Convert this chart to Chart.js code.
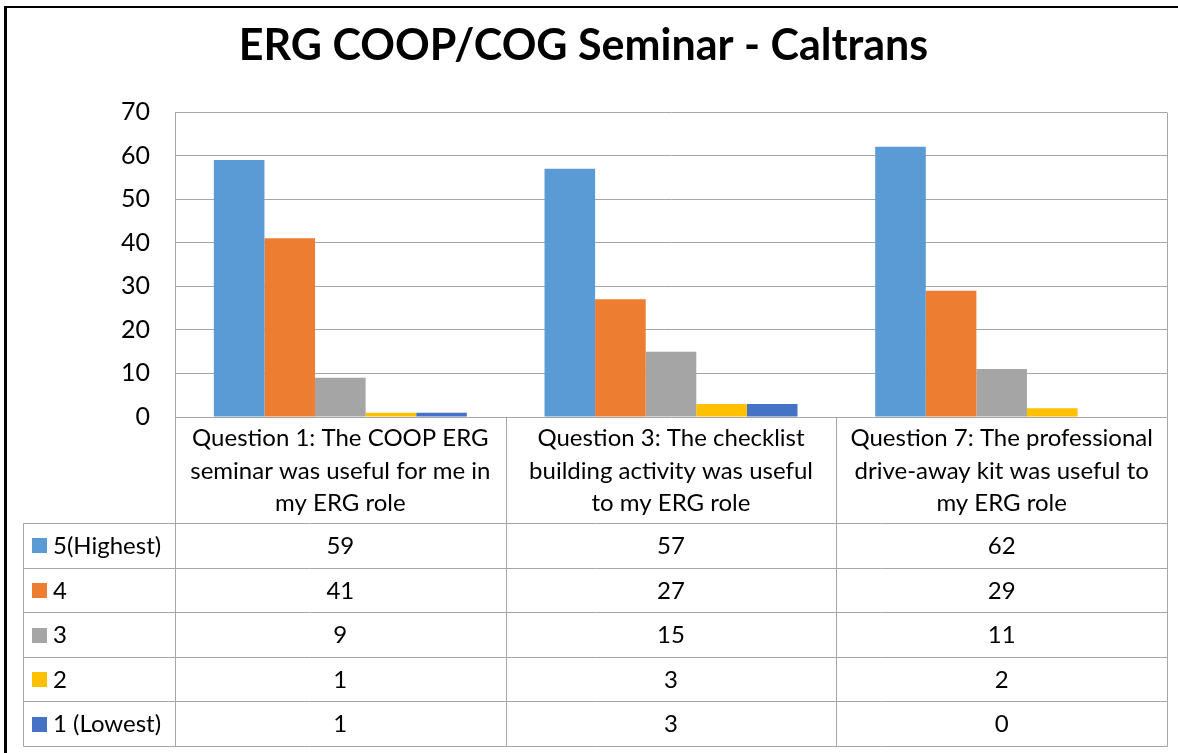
<!DOCTYPE html>
<html>
<head>
<meta charset="utf-8">
<script src="https://cdn.jsdelivr.net/npm/chart.js@4.4.1/dist/chart.umd.min.js"></script>
<style>
  html, body { margin: 0; padding: 0; background: #fff; overflow: hidden; }
  #wrap { position: relative; width: 1178px; height: 753px; }
  #frame { position: absolute; left: 4px; top: 6px; width: 1400px; height: 900px;
           border-left: 3px solid #000; border-top: 2px solid #000; pointer-events: none; }
  canvas { position: absolute; left: 0; top: 0; }
</style>
</head>
<body>
<div id="wrap">
  <canvas id="c" width="1178" height="753"></canvas>
  <div id="frame"></div>
</div>
<script>
// ---- data ----
const chartTitle = "ERG COOP/COG Seminar - Caltrans";
const categories = [
  ["Question 1: The COOP ERG", "seminar was useful for me in", "my ERG role"],
  ["Question 3: The checklist", "building activity was useful", "to my ERG role"],
  ["Question 7: The professional", "drive-away kit was useful to", "my ERG role"]
];
const seriesNames = ["5(Highest)", "4", "3", "2", "1 (Lowest)"];
const series5 = [59, 57, 62];
const series4 = [41, 27, 29];
const series3 = [9, 15, 11];
const series2 = [1, 3, 2];
const series1 = [1, 3, 0];
const yTicks = [0, 10, 20, 30, 40, 50, 60, 70];
const seriesColors = ["#5B9BD5", "#ED7D31", "#A5A5A5", "#FFC000", "#4472C4"];

const seriesValues = [series5, series4, series3, series2, series1];
const FONT = "Lato, Carlito, Calibri, sans-serif";
const LINE = "#a6a6a6";

const tablePlugin = {
  id: 'dataTable',
  afterDraw(chart) {
    const { ctx, chartArea: ca, scales: { x } } = chart;
    const tableLeft = 23;
    const headerH = 106;
    const rowH = 44.6;
    const headerBottom = ca.bottom + headerH;
    const tableBottom = headerBottom + rowH * seriesNames.length;
    const catW = (x.right - x.left) / categories.length;

    ctx.save();
    ctx.strokeStyle = LINE;
    ctx.lineWidth = 1;
    const line = (x1, y1, x2, y2) => {
      ctx.beginPath();
      ctx.moveTo(Math.round(x1) + 0.5, Math.round(y1) + 0.5);
      ctx.lineTo(Math.round(x2) + 0.5, Math.round(y2) + 0.5);
      ctx.stroke();
    };
    // plot-area right border
    line(ca.right, ca.top, ca.right, ca.bottom);
    // vertical lines of the table
    for (let i = 0; i <= categories.length; i++) {
      const xx = x.left + catW * i;
      line(xx, ca.bottom, xx, tableBottom);
    }
    line(tableLeft, headerBottom, tableLeft, tableBottom);
    // horizontal lines
    for (let r = 0; r <= seriesNames.length; r++) {
      const yy = headerBottom + rowH * r;
      line(tableLeft, yy, ca.right, yy);
    }

    ctx.fillStyle = "#000";
    ctx.font = "24px " + FONT;
    ctx.textBaseline = "middle";
    // category headers
    ctx.textAlign = "center";
    categories.forEach((lines, i) => {
      const cx = x.getPixelForValue(i);
      const lh = 32.5;
      const startY = ca.bottom + headerH / 2 - lh * (lines.length - 1) / 2 + 1;
      lines.forEach((t, k) => ctx.fillText(t, cx, startY + k * lh));
    });
    // rows
    seriesNames.forEach((name, r) => {
      const cy = headerBottom + rowH * (r + 0.5) + 1;
      ctx.fillStyle = seriesColors[r];
      ctx.fillRect(32, Math.round(cy - 8), 15, 15);
      ctx.fillStyle = "#000";
      ctx.textAlign = "left";
      ctx.fillText(name, 53, cy);
      ctx.textAlign = "center";
      seriesValues[r].forEach((v, i) => {
        ctx.fillText(String(v), x.getPixelForValue(i), cy);
      });
    });
    ctx.restore();
  }
};

new Chart(document.getElementById('c'), {
  type: 'bar',
  data: {
    labels: categories.map(c => c.join(" ")),
    datasets: seriesNames.map((n, i) => ({
      label: n,
      data: seriesValues[i],
      backgroundColor: seriesColors[i],
      borderWidth: 0,
      categoryPercentage: 0.765,
      barPercentage: 1.0
    }))
  },
  options: {
    responsive: false,
    animation: false,
    devicePixelRatio: 1,
    layout: { padding: { left: 0, right: 11, top: 0, bottom: 0 } },
    plugins: {
      legend: { display: false },
      tooltip: { enabled: false },
      title: {
        display: true,
        text: chartTitle,
        color: "#000",
        font: { family: FONT, size: 43, weight: 'bold', lineHeight: 1.2 },
        padding: { top: 20, bottom: 40.4 }
      }
    },
    scales: {
      x: {
        grid: { display: false, drawTicks: false },
        border: { display: false },
        ticks: { display: false },
        afterFit(s) { s.height = 753 - 417; }
      },
      y: {
        min: 0, max: 70,
        afterFit(s) { s.width = 175; },
        afterBuildTicks(s) { s.ticks = yTicks.map(v => ({ value: v })); },
        grid: { color: LINE, drawTicks: false, lineWidth: 1 },
        border: { display: true, color: LINE, width: 1 },
        ticks: { color: "#000", padding: 25, font: { family: FONT, size: 25 } }
      }
    }
  },
  plugins: [tablePlugin]
});
</script>
</body>
</html>
